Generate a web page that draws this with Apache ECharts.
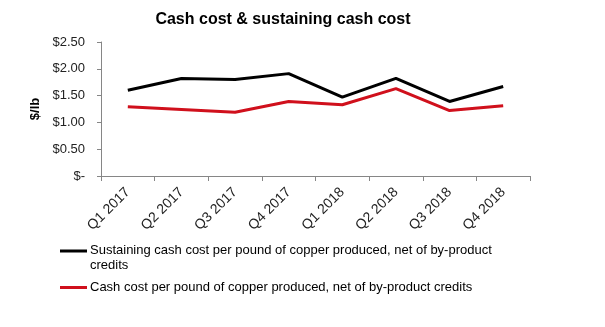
<!DOCTYPE html>
<html>
<head>
<meta charset="utf-8">
<script src="https://cdn.jsdelivr.net/npm/echarts@6/dist/echarts.min.js"></script>
<style>
  html, body { margin: 0; padding: 0; background: #fff; }
  #chart { width: 605px; height: 327px; }
</style>
</head>
<body>
<div id="chart"></div>
<script>
// Quarterly unit costs, US$ per pound of copper
const quarters = ['Q1 2017', 'Q2 2017', 'Q3 2017', 'Q4 2017', 'Q1 2018', 'Q2 2018', 'Q3 2018', 'Q4 2018'];
const sustainingCashCost = [1.60, 1.82, 1.80, 1.91, 1.47, 1.82, 1.39, 1.67];
const cashCost = [1.29, 1.24, 1.19, 1.39, 1.33, 1.63, 1.22, 1.31];
const sustainingName = 'Sustaining cash cost per pound of copper produced, net of by-product\ncredits';
const cashName = 'Cash cost per pound of copper produced, net of by-product credits';

const FONT = '"Liberation Sans", Arial, sans-serif';
const chart = echarts.init(document.getElementById('chart'));

chart.setOption({
  animation: false,
  backgroundColor: '#fff',
  title: {
    text: 'Cash cost & sustaining cash cost',
    left: 278,
    textAlign: 'center',
    top: 7,
    textStyle: { fontFamily: FONT, fontSize: 16, fontWeight: 'bold', color: '#000' }
  },
  grid: { left: 101, right: 75, top: 42, bottom: 151, containLabel: false },
  xAxis: {
    type: 'category',
    data: quarters,
    boundaryGap: true,
    axisLine: { lineStyle: { color: '#868686', width: 1 } },
    axisTick: { show: true, length: 5, lineStyle: { color: '#868686' } },
    axisLabel: {
      rotate: 45,
      margin: 14,
      fontFamily: FONT,
      fontSize: 14,
      color: '#222'
    }
  },
  yAxis: {
    type: 'value',
    min: 0,
    max: 2.5,
    interval: 0.5,
    name: '$/lb',
    nameLocation: 'middle',
    nameGap: 56,
    nameRotate: 90,
    nameTextStyle: { fontFamily: FONT, fontSize: 13, fontWeight: 'bold', color: '#000' },
    axisLine: { show: true, lineStyle: { color: '#868686', width: 1 } },
    axisTick: { show: true, length: 4, lineStyle: { color: '#868686' } },
    splitLine: { show: false },
    axisLabel: {
      margin: 16,
      fontFamily: FONT,
      fontSize: 13,
      color: '#222',
      formatter: function (v) { return v === 0 ? '$-' : '$' + v.toFixed(2); }
    }
  },
  series: [
    {
      name: sustainingName,
      type: 'line',
      data: sustainingCashCost,
      symbol: 'none',
      lineStyle: { color: '#000', width: 3 },
      itemStyle: { color: '#000' }
    },
    {
      name: cashName,
      type: 'line',
      data: cashCost,
      symbol: 'none',
      lineStyle: { color: '#d0101c', width: 3 },
      itemStyle: { color: '#d0101c' }
    }
  ],
  graphic: [
    { type: 'line', shape: { x1: 60, y1: 251, x2: 87, y2: 251 }, style: { stroke: '#000', lineWidth: 3 } },
    { type: 'text', left: 90, top: 243, style: { text: sustainingName, font: '13px ' + FONT, fill: '#000', lineHeight: 15 } },
    { type: 'line', shape: { x1: 60, y1: 287.5, x2: 87, y2: 287.5 }, style: { stroke: '#d0101c', lineWidth: 3 } },
    { type: 'text', left: 90, top: 280, style: { text: cashName, font: '13px ' + FONT, fill: '#000', lineHeight: 15 } }
  ]
});
</script>
</body>
</html>
